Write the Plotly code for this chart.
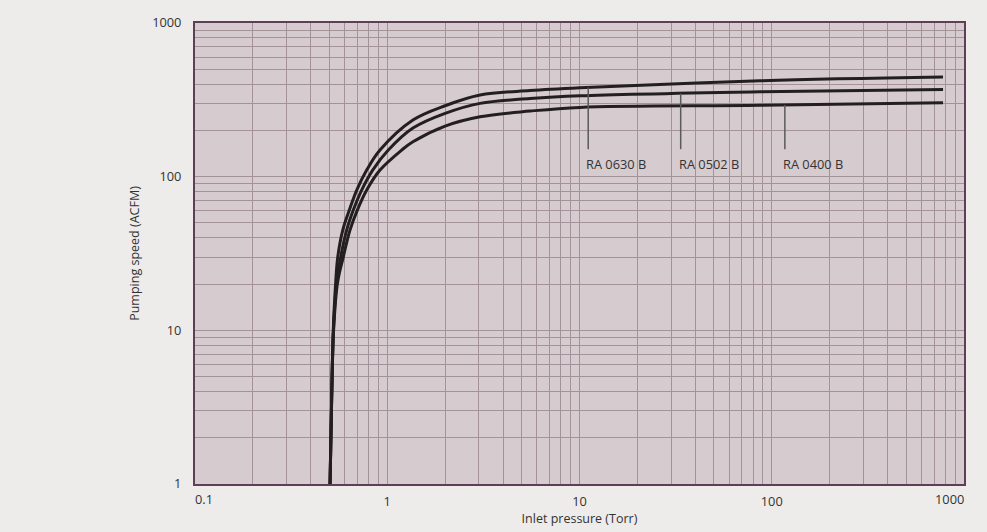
import numpy as np
import plotly.graph_objects as go

# ---- data ----
series_names = ["RA 0630 B", "RA 0502 B", "RA 0400 B"]

p_0630 = [0.504, 0.514, 0.524, 0.539, 0.553, 0.587, 0.635, 0.694, 0.782, 0.917, 1.36, 2.0, 3.04, 5.53, 10.06, 86.9, 778]
s_0630 = [1.0, 3.7, 10.05, 20.3, 30.1, 44.9, 60.6, 81.8, 110.4, 149, 233.6, 289.3, 339.6, 363.2, 378.8, 420.7, 444.6]

p_0502 = [0.504, 0.514, 0.525, 0.545, 0.573, 0.615, 0.666, 0.736, 0.840, 1.013, 1.36, 2.0, 3.04, 5.53, 10.06, 86.9, 778]
s_0502 = [1.0, 3.7, 10.05, 20.3, 30.1, 44.9, 60.6, 81.8, 110.4, 149, 207.1, 258.2, 299.9, 322.2, 336, 356.8, 369.8]

p_0400 = [0.504, 0.514, 0.526, 0.551, 0.591, 0.640, 0.699, 0.782, 0.917, 1.189, 1.36, 2.0, 3.04, 5.53, 10.06, 86.9, 778]
s_0400 = [1.0, 3.7, 10.05, 20.3, 30.1, 44.9, 60.6, 81.8, 110.4, 149, 168.7, 213.4, 245.3, 267.2, 282.4, 291.4, 302.5]

label_x = [11.1, 33.6, 117.0]     # pressure where each label/leader sits
leader_bottom = 151.0             # speed where leader lines end
label_y = 121.0                   # speed of label text centre

x_decades = [0.1, 1, 10, 100, 1000]
x_tick_text = ["0.1", "1", "10", "100", "1000"]
y_decades = [1, 10, 100, 1000]
y_tick_text = ["1", "10", "100", "1000"]

# ---- styling ----
FONT = "Open Sans"
TXT = "#333333"
GRID = "#a4929a"
FRAME = "#5f3f58"
CURVE = "#231f20"
FS = 12.8

curves = [(p_0630, s_0630), (p_0502, s_0502), (p_0400, s_0400)]


def all_ticks(decades):
    vals = []
    for d in decades[:-1]:
        for m in range(1, 10):
            vals.append(round(d * m, 6))
    vals.append(decades[-1])
    return vals


def tick_text(vals, decades, texts, blank_ends=False):
    out = []
    for v in vals:
        match = [abs(v - d) < 1e-9 for d in decades]
        if any(match):
            t = texts[match.index(True)]
            if blank_ends and (match[0] or match[-1]):
                t = ""
            out.append(t)
        else:
            out.append("")
    return out


xv = all_ticks(x_decades)
yv = all_ticks(y_decades)

fig = go.Figure()

for (px, sy), name in zip(curves, series_names):
    fig.add_trace(go.Scatter(x=px, y=sy, mode="lines", name=name,
                             line=dict(color=CURVE, width=3, shape="spline", smoothing=1.0),
                             hoverinfo="skip", showlegend=False))

# leader lines from each curve down to its label
for (px, sy), lx, name in zip(curves, label_x, series_names):
    top = 10 ** np.interp(np.log10(lx), np.log10(px), np.log10(sy))
    fig.add_trace(go.Scatter(x=[lx, lx], y=[top, leader_bottom], mode="lines",
                             line=dict(color="#5a5a5a", width=1.5),
                             hoverinfo="skip", showlegend=False))
    fig.add_annotation(x=np.log10(lx), y=np.log10(label_y), text=name, showarrow=False,
                       xanchor="left", yanchor="middle", xshift=-4,
                       font=dict(family=FONT, size=FS, color=TXT))

# end tick labels aligned inward like the reference
fig.add_annotation(x=0, y=0, xref="paper", yref="paper", text=x_tick_text[0], showarrow=False,
                   xanchor="left", yanchor="top", yshift=-4, xshift=-2,
                   font=dict(family=FONT, size=FS, color=TXT))
fig.add_annotation(x=1, y=0, xref="paper", yref="paper", text=x_tick_text[-1], showarrow=False,
                   xanchor="right", yanchor="top", yshift=-4, xshift=2,
                   font=dict(family=FONT, size=FS, color=TXT))

axis_common = dict(type="log", showgrid=True, gridcolor=GRID, gridwidth=1.2,
                   showline=True, linecolor=FRAME, linewidth=2, mirror=True,
                   ticks="", zeroline=False, tickmode="array",
                   tickfont=dict(family=FONT, size=FS, color=TXT))

fig.update_xaxes(range=[-1, 3], tickvals=xv,
                 ticktext=tick_text(xv, x_decades, x_tick_text, blank_ends=True),
                 ticklabelstandoff=5,
                 title=dict(text="Inlet pressure (Torr)", standoff=4,
                            font=dict(family=FONT, size=12.5, color=TXT)),
                 **axis_common)
fig.update_yaxes(range=[0, 3], tickvals=yv,
                 ticktext=tick_text(yv, y_decades, y_tick_text),
                 ticklabelstandoff=9,
                 title=dict(text="Pumping speed (ACFM)", standoff=10,
                            font=dict(family=FONT, size=12.5, color=TXT)),
                 **axis_common)

fig.update_layout(width=987, height=532,
                  margin=dict(l=195, r=23, t=23, b=48, autoexpand=False),
                  paper_bgcolor="#edecea", plot_bgcolor="#d6cbce",
                  font=dict(family=FONT, color=TXT))

fig.write_html("out.html", config={"displayModeBar": False},
               post_script="document.body.style.margin='0';")
